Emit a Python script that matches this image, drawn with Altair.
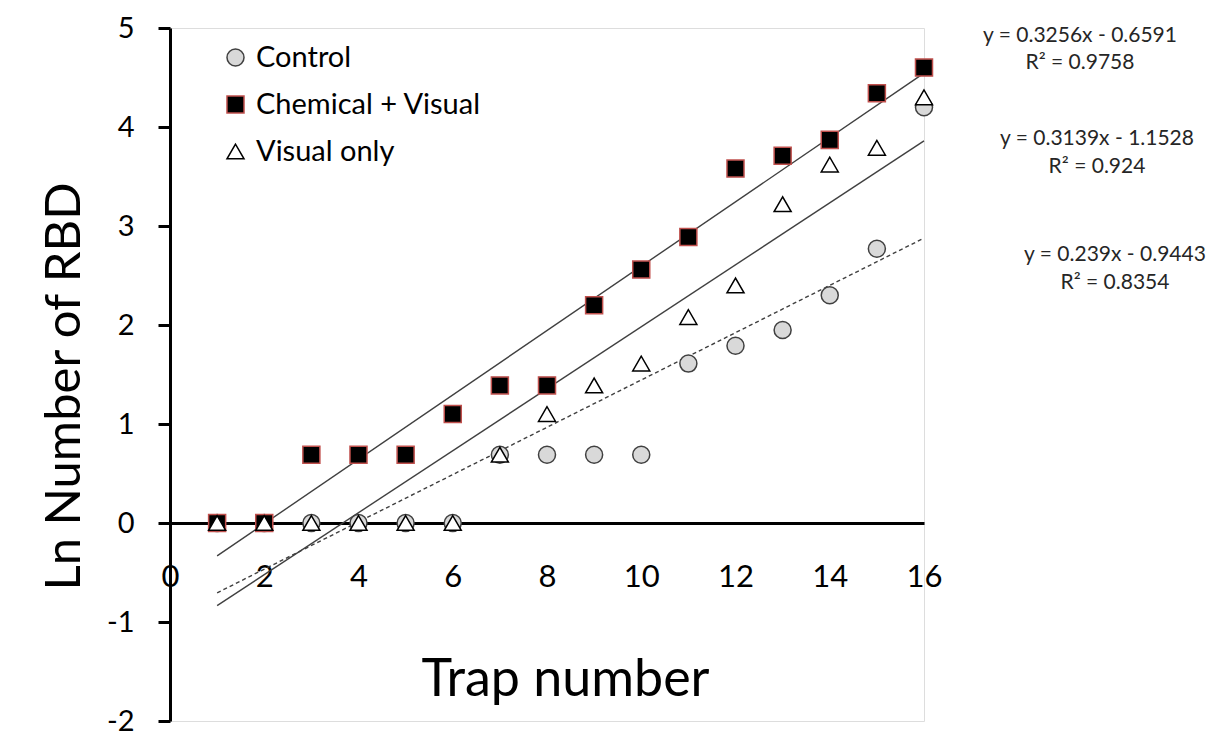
import altair as alt
import pandas as pd

trap = list(range(1, 17))
control = [0, 0, 0, 0, 0, 0, 0.69, 0.69, 0.69, 0.69, 1.61, 1.79, 1.95, 2.30, 2.77, 4.20]
chem_visual = [0, 0, 0.69, 0.69, 0.69, 1.10, 1.39, 1.39, 2.20, 2.56, 2.89, 3.58, 3.71, 3.87, 4.34, 4.60]
visual_only = [0, 0, 0, 0, 0, 0, 0.69, 1.10, 1.39, 1.61, 2.08, 2.40, 3.22, 3.62, 3.79, 4.30]

series_names = ["Control", "Chemical + Visual", "Visual only"]
x_ticks = [0, 2, 4, 6, 8, 10, 12, 14, 16]
y_ticks = [-2, -1, 0, 1, 2, 3, 4, 5]

eq_lines = [
    ["y = 0.3256x - 0.6591", "R\u00b2 = 0.9758"],
    ["y = 0.3139x - 1.1528", "R\u00b2 = 0.924"],
    ["y = 0.239x - 0.9443", "R\u00b2 = 0.8354"],
]

rows = []
for name, vals in zip(series_names, [control, chem_visual, visual_only]):
    for t, v in zip(trap, vals):
        rows.append({"trap": t, "ln": v, "series": name})
df = pd.DataFrame(rows)

FONT = "Lato"
W, H = 754, 693

x_enc = alt.X(
    "trap:Q",
    scale=alt.Scale(domain=[0, 16], nice=False, zero=False),
    axis=alt.Axis(
        values=x_ticks, offset=-198.0, ticks=False, grid=False,
        domainColor="black", domainWidth=3,
        labelFontSize=31, labelFont=FONT, labelColor="black", labelPadding=39,
        labelFlush=False, labelOverlap=False, labelExpr="'' + datum.value",
        title="Trap number", titleFontSize=52, titleFont=FONT, titleFontWeight="normal",
        titleColor="black", titleX=395, titleY=156, titleBaseline="middle", titleAlign="center",
    ),
)
y_enc = alt.Y(
    "ln:Q",
    scale=alt.Scale(domain=[-2, 5], nice=False, zero=False),
    axis=alt.Axis(
        values=y_ticks, grid=False, tickSize=12, tickWidth=3, tickColor="black",
        domainColor="black", domainWidth=3,
        labelFontSize=29, labelFont=FONT, labelColor="black", labelPadding=24,
        labelFlush=False, labelOverlap=False, labelExpr="'' + datum.value",
        title="Ln Number of RBD", titleFontSize=49, titleFont=FONT, titleFontWeight="normal",
        titleColor="black", titleX=-106, titleY=358, titleAngle=-90,
        titleBaseline="middle", titleAlign="center",
    ),
)

legend = alt.Legend(
    orient="top-left", offset=15, symbolOffset=36, title=None, labelLimit=0,
    labelFontSize=29, labelFont=FONT, labelColor="black", labelOffset=6,
    symbolSize=290, symbolStrokeWidth=1.5, rowPadding=17,
)

reg = alt.Chart(df).transform_regression("trap", "ln", groupby=["series"], extent=[1, 16])

solid_lines = (
    reg.transform_filter(alt.datum.series != "Control")
    .mark_line(color="#404040", strokeWidth=1.4)
    .encode(x=x_enc, y=y_enc, detail="series:N")
)
dashed_line = (
    reg.transform_filter(alt.datum.series == "Control")
    .mark_line(color="#404040", strokeWidth=1.4, strokeDash=[4, 3])
    .encode(x=x_enc, y=y_enc)
)

points = (
    alt.Chart(df)
    .mark_point(filled=True, opacity=1, strokeWidth=1.5, size=290)
    .encode(
        x=x_enc,
        y=y_enc,
        shape=alt.Shape("series:N", scale=alt.Scale(domain=series_names, range=["circle", "square", "triangle-up"]), legend=legend),
        fill=alt.Fill("series:N", scale=alt.Scale(domain=series_names, range=["#d9d9d9", "#000000", "#ffffff"]), legend=legend),
        stroke=alt.Stroke("series:N", scale=alt.Scale(domain=series_names, range=["#404040", "#c0504d", "#000000"]), legend=legend),
    )
)

eq_pos = [(910, 8, 35), (927, 111, 139), (945, 227, 255)]
texts = []
for (l1, l2), (px, py1, py2) in zip(eq_lines, eq_pos):
    for txt, py in [(l1, py1), (l2, py2)]:
        texts.append(
            alt.Chart(pd.DataFrame({"t": [txt]}))
            .mark_text(font=FONT, fontSize=21, color="#262626", align="center", baseline="middle")
            .encode(text="t:N", x=alt.value(px), y=alt.value(py))
        )

chart = (
    alt.layer(solid_lines, dashed_line, points, *texts)
    .properties(
        width=W, height=H,
        autosize=alt.AutoSizeParams(type="none"),
        padding={"left": 162, "top": 20, "right": 290, "bottom": 15},
        background="white",
    )
    .configure_view(stroke=None)
    .configure(font=FONT)
)

chart.save("out.html", embed_options={"renderer": "svg", "actions": False})
